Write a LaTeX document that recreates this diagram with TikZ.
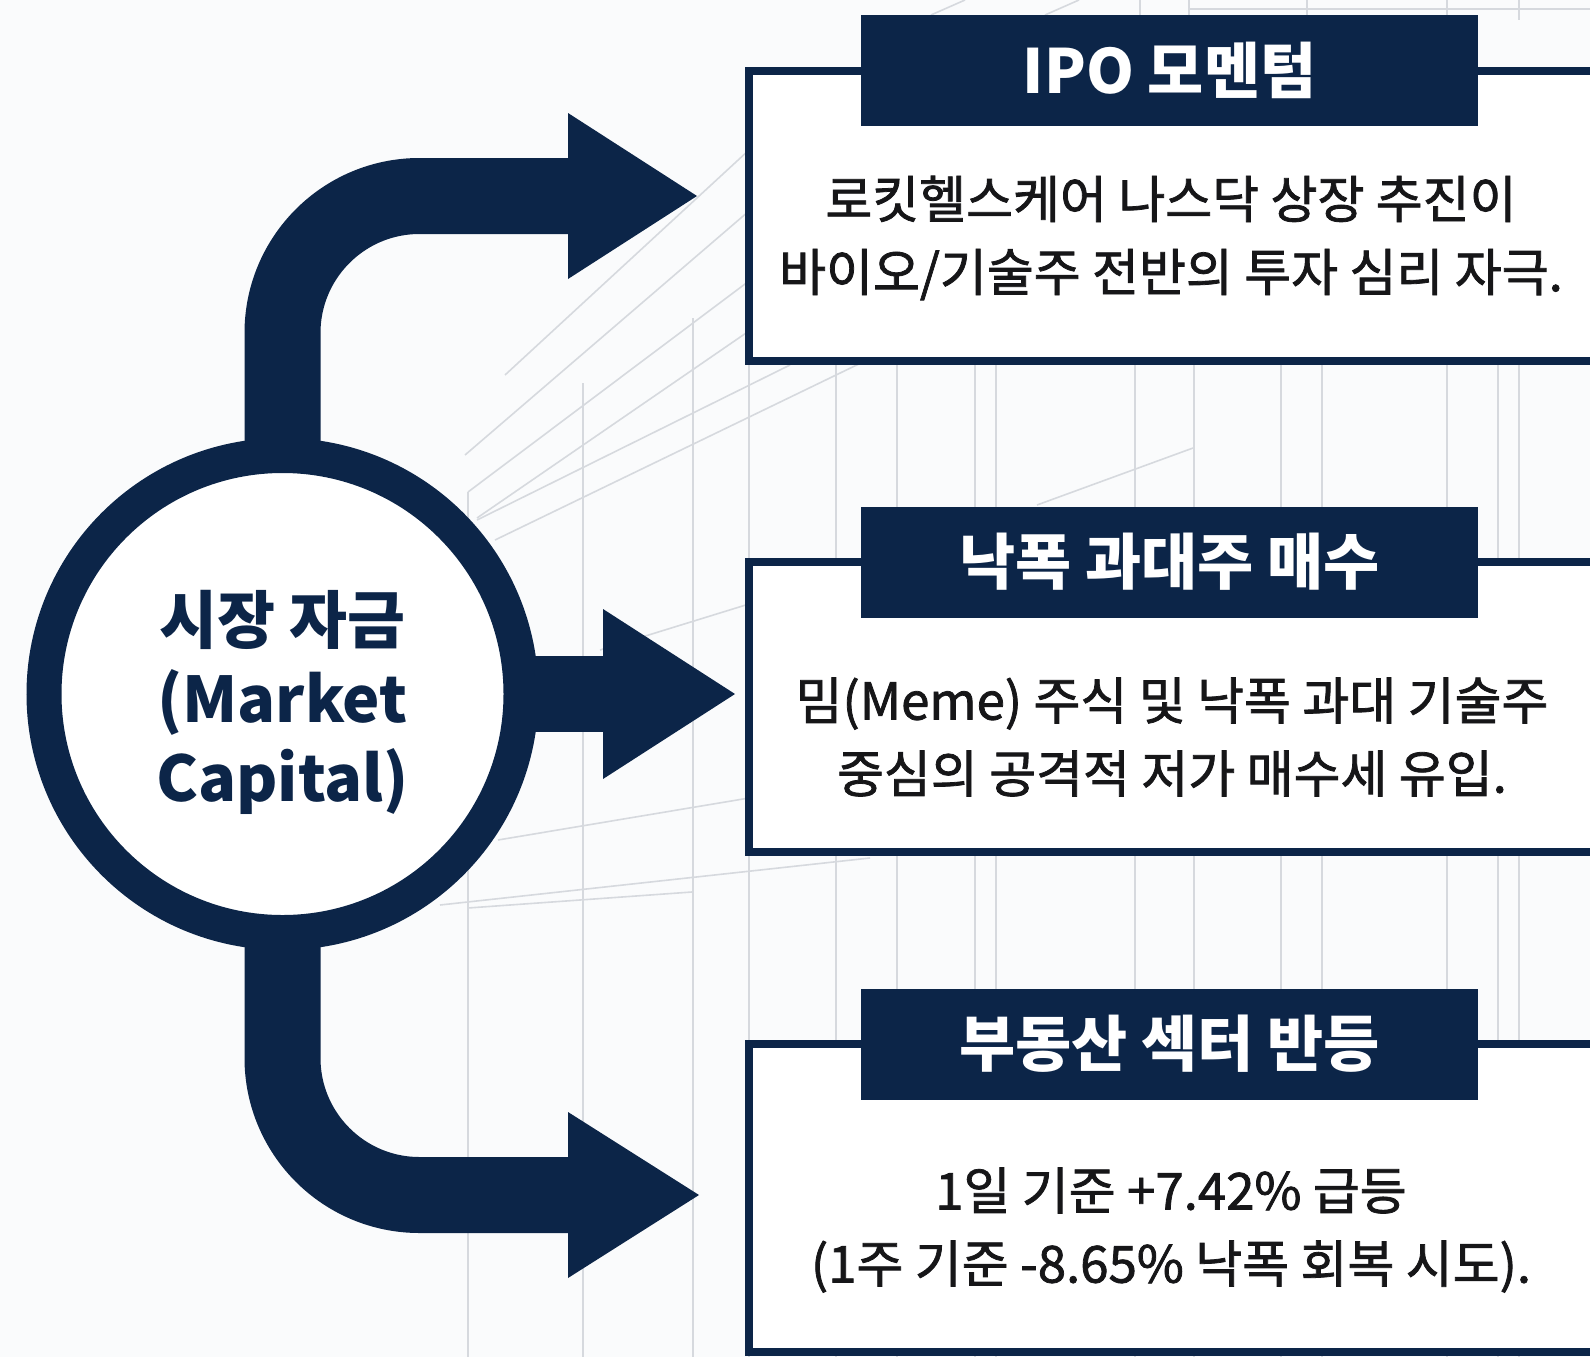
\documentclass[tikz,border=0pt]{standalone}
\usepackage{fontspec}
\newfontfamily\kr{Noto Sans CJK KR}
\newfontfamily\krm{Noto Sans CJK KR}[FakeBold=1.5]
\definecolor{navy}{RGB}{12,37,72}
\definecolor{gridc}{RGB}{214,217,222}
\definecolor{bgc}{RGB}{250,251,252}
\definecolor{bodyc}{RGB}{22,22,24}
\begin{document}
\begin{tikzpicture}[x=1pt,y=-1pt,
  gridline/.style={draw=gridc, line width=1.6pt},
  shaft/.style={draw=navy, line width=76pt, rounded corners=137pt},
  head/.style={fill=navy},
  boxst/.style={draw=navy, line width=8pt, fill=white},
  banner/.style={fill=navy, minimum width=617pt, minimum height=111pt, inner sep=0pt, text=white, font=\kr\bfseries\fontsize{61}{64}\selectfont},
  body/.style={text=bodyc, align=center, font=\krm\fontsize{51}{73}\selectfont},
]
\path[use as bounding box, fill=bgc] (0,0) rectangle (1590,1357);
\clip (0,0) rectangle (1590,1357);

% background grid lines
\draw[gridline] (468,492) -- (468,1357);
\draw[gridline] (583,383) -- (583,1357);
\draw[gridline] (693,318) -- (693,1357);
\draw[gridline] (749,360) -- (749,1357);
\foreach \gx in {836,897,975,996,1135,1194,1281,1322,1447,1498,1519}
  \draw[gridline] (\gx,360) -- (\gx,1357);
\foreach \gx in {1140,1189,1307,1447,1519}
  \draw[gridline] (\gx,0) -- (\gx,20);
\draw[gridline] (1190,9) -- (1590,9);
\draw[gridline] (931,15) -- (965,0);
\draw[gridline] (1045,15) -- (1079,0);
\draw[gridline] (505,375) -- (749,150);
\draw[gridline] (465,455) -- (749,211);
\draw[gridline] (468,492) -- (749,281);
\draw[gridline] (477,518) -- (749,331);
\draw[gridline] (477,520) -- (790,365);
\draw[gridline] (495,540) -- (865,361);
\draw[gridline] (1037,505) -- (1193,448);
\draw[gridline] (600,650) -- (749,604);
\draw[gridline] (498,840) -- (749,798);
\draw[gridline] (440,905) -- (870,858);
\draw[gridline] (468,908) -- (692,892);

% boxes
\node[boxst, minimum width=851pt, minimum height=290pt, inner sep=0pt] (b1) at (1174.5,216) {};
\node[boxst, minimum width=851pt, minimum height=290pt, inner sep=0pt] (b2) at (1174.5,707) {};
\node[boxst, minimum width=851pt, minimum height=308pt, inner sep=0pt] (b3) at (1174.5,1198) {};

\node[banner] (h1) at (1169.5,70.5) {IPO 모멘텀};
\node[banner] (h2) at (1169.5,562) {낙폭 과대주 매수};
\node[banner] (h3) at (1169.5,1044) {부동산 섹터 반등};

\node[body] (t1) at (1171,238) {로킷헬스케어 나스닥 상장 추진이\\바이오/기술주 전반의 투자 심리 자극.};
\node[body] (t2) at (1172,737) {밈(Meme) 주식 및 낙폭 과대 기술주\\중심의 공격적 저가 매수세 유입.};
\node[body] (t3) at (1171,1230) {1일 기준 +7.42\% 급등\\(1주 기준 -8.65\% 낙폭 회복 시도).};

% arrow tips
\coordinate (tipA) at (697,196);
\coordinate (tipB) at (735,694);
\coordinate (tipC) at (699,1195);
\coordinate (cc) at (282.5,694);

% shafts
\draw[shaft] (cc) |- (572,196);
\draw[shaft] (cc) |- (572,1195);
\draw[shaft] (cc) -- (607,694);
\fill[head] (568,113) -- (tipA) -- (568,279) -- cycle;
\fill[head] (603,609) -- (tipB) -- (603,779) -- cycle;
\fill[head] (568,1112) -- (tipC) -- (568,1278) -- cycle;

% central circle
\node[circle, draw=navy, line width=35pt, fill=white, minimum size=477pt, inner sep=0pt] (cap) at (cc) {};
\node[text=navy, align=center, font=\kr\bfseries\fontsize{63}{79}\selectfont] (captext) at (282.5,702)
  {시장 자금\\(Market\\Capital)};
\end{tikzpicture}
\end{document}
